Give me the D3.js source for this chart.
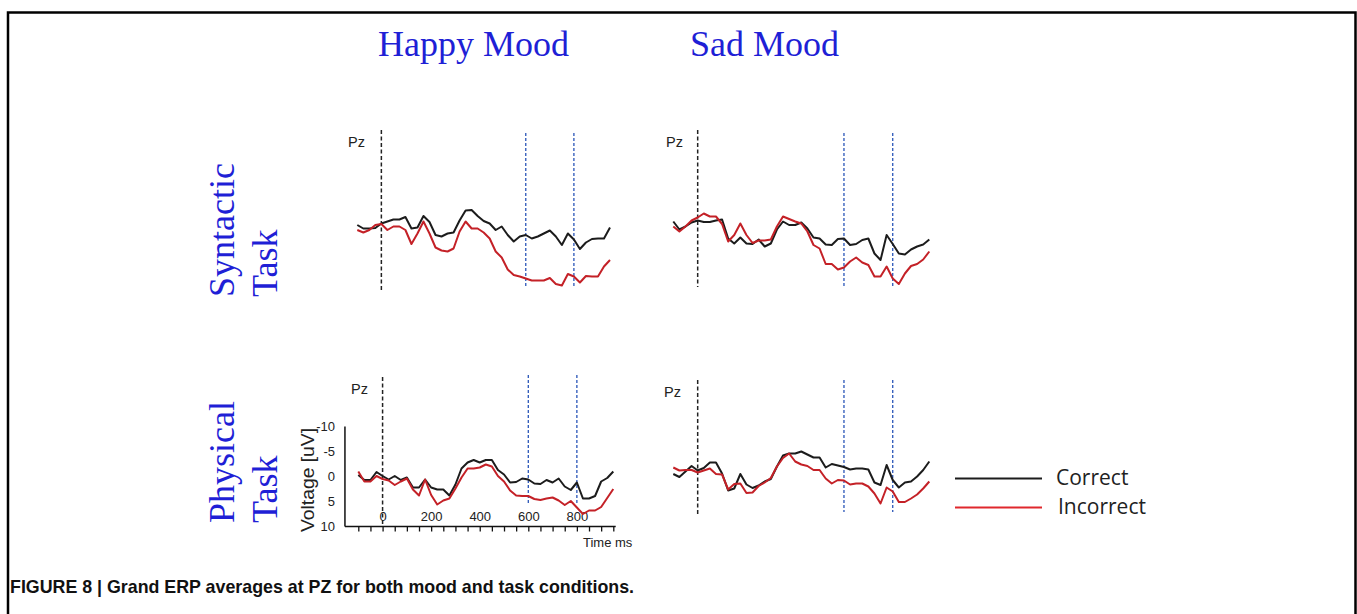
<!DOCTYPE html>
<html>
<head>
<meta charset="utf-8">
<script src="https://cdn.jsdelivr.net/npm/d3@7/dist/d3.min.js"></script>
<style>
  body { margin: 0; background: #fff; }
</style>
</head>
<body>
<svg id="chart" width="1357" height="614" font-family="Liberation Sans, Arial, sans-serif"></svg>
<script>

// time grid (ms) shared by all ERP traces
var times = [-100, -75, -50, -25, 0, 25, 50, 75, 100, 125, 150, 175, 200, 225, 250, 275, 300,
  325, 350, 375, 400, 425, 450, 475, 500, 525, 550, 575, 600, 625, 650, 675, 700, 725, 750,
  775, 800, 825, 850, 875, 900, 925, 950];

// voltages in uV (negative up)
var happySynCorrect = [-1.0, -0.3, -0.3, -0.4, -1.3, -1.7, -2.1, -2.1, -2.6, -0.3, -0.5, -2.8, -1.6,
  1.0, 1.3, 0.7, 0.5, -1.9, -3.9, -4.0, -2.8, -1.8, -1.3, 0.0, -0.7, 1.0, 2.3, 1.3, 1.0, 1.7, 1.3,
  0.7, 0.1, 1.3, 3.0, 0.7, 1.9, 3.8, 2.5, 1.8, 1.7, 1.7, -0.5];
var happySynIncorrect = [0.0, 0.5, 0.0, -1.0, -1.2, 0.0, -0.7, -0.7, 0.0, 2.8, 0.7, -1.7, 0.7, 3.5,
  4.1, 4.3, 3.7, 0.3, -1.7, -0.3, -0.3, 0.5, 1.7, 4.3, 5.5, 7.9, 9.0, 9.3, 9.7, 10.1, 10.1, 10.1,
  9.6, 10.8, 11.1, 8.8, 9.3, 10.5, 9.2, 9.3, 9.3, 7.3, 6.0];
var sadSynCorrect = [-1.7, -0.1, -0.7, -1.5, -1.9, -1.6, -1.6, -1.9, -2.1, 1.7, 2.7, 1.5, 2.7, 2.8,
  1.9, 3.3, 2.7, -0.1, -1.7, -1.0, -1.0, -1.5, -0.3, 1.5, 1.7, 2.9, 3.0, 1.8, 1.7, 3.0, 2.8, 2.0,
  1.7, 4.7, 6.0, 1.0, 2.8, 4.7, 4.9, 3.9, 3.3, 2.9, 1.9];
var sadSynIncorrect = [-0.7, 0.3, -0.7, -1.9, -2.5, -3.3, -2.7, -2.7, -1.2, 2.3, 1.0, -1.3, 1.0, 2.6,
  2.1, 2.1, 1.9, -0.7, -2.7, -2.2, -1.7, -1.3, 0.3, 3.0, 3.7, 6.8, 6.8, 7.9, 7.5, 6.3, 5.5, 6.5,
  7.0, 9.3, 9.3, 7.3, 9.7, 10.8, 8.7, 7.2, 6.8, 5.9, 4.3];
var happyPhysCorrect = [-0.3, 0.7, 0.7, -0.9, -0.1, 0.6, -0.1, 0.7, 0.2, 2.2, 2.2, 0.6, 2.2, 2.6,
  2.6, 3.8, 1.6, -1.6, -2.8, -3.3, -2.8, -3.3, -3.3, -1.3, -0.4, 1.2, 1.1, 0.4, 0.6, 1.4, 1.5, 0.7,
  1.2, 0.4, 2.0, 2.7, 1.2, 4.4, 4.4, 3.9, 1.0, 0.3, -1.0];
var happyPhysIncorrect = [-1.0, 1.0, 1.0, -0.1, 0.5, 0.8, 1.7, 1.0, 0.4, 2.6, 3.8, 0.6, 3.7, 5.6,
  4.8, 4.4, 2.4, 0.2, -1.6, -1.6, -1.8, -2.4, -2.0, -0.1, 1.0, 2.8, 3.8, 3.9, 3.9, 4.5, 4.7, 4.4,
  4.2, 4.8, 5.7, 4.9, 6.2, 7.5, 6.8, 6.8, 6.1, 4.3, 2.5];
var sadPhysCorrect = [-0.5, 0.1, -1.0, -2.1, -1.2, -1.7, -2.8, -2.8, -0.6, 2.8, 2.4, -0.5, 1.6, 2.3,
  1.8, 1.0, 0.5, -2.0, -4.2, -4.6, -4.6, -5.0, -4.4, -3.8, -3.8, -1.8, -2.5, -2.2, -1.9, -1.4, -1.6,
  -1.6, -1.4, 1.2, 1.7, -2.3, 0.7, 2.2, 1.2, 1.0, 0.0, -1.3, -3.0];
var sadPhysIncorrect = [-1.8, -1.2, -1.3, -1.3, -0.8, -1.2, -1.6, -0.5, -0.4, 2.6, 1.5, 1.4, 3.3,
  3.2, 1.9, 1.2, 0.3, -2.0, -3.7, -4.6, -3.0, -2.4, -2.1, -1.3, -1.3, 0.4, 1.4, 0.7, 0.8, 1.6, 1.4,
  1.4, 2.0, 3.4, 5.4, 2.2, 3.0, 5.1, 5.1, 4.4, 3.6, 2.4, 1.0];

// axis ticks of the one labelled panel
var voltTicks = [-10, -5, 0, 5, 10];
var timeLabels = [0, 200, 400, 600, 800];
var timeTicks = [-100, -50, 0, 50, 100, 150, 200, 250, 300, 350, 400, 450, 500, 550, 600, 650,
  700, 750, 800, 850, 900, 950];
var markers = [600, 800];

var moods = ["Happy Mood", "Sad Mood"];
var tasks = [["Syntactic", "Task"], ["Physical", "Task"]];
var seriesNames = ["Correct", "Incorrect"];

var svg = d3.select("#chart");
var serif = "Liberation Serif, Times New Roman, serif";

// frame round the figure
svg.append("path")
    .attr("d", "M8,614V12.5H1355.5V614")
    .attr("fill", "none")
    .attr("stroke", "#000")
    .attr("stroke-width", 2.5);

var panels = [
  {corr: happySynCorrect, inc: happySynIncorrect, left: 357.3, right: 610, zero: 230,
   black: [130, 290], blue: [133, 288], pz: [348, 147]},
  {corr: sadSynCorrect, inc: sadSynIncorrect, left: 673.3, right: 929.3, zero: 230,
   black: [130, 287], blue: [133, 288], pz: [666, 147]},
  {corr: happyPhysCorrect, inc: happyPhysIncorrect, left: 358.3, right: 613.3, zero: 476.5,
   black: [377, 527], blue: [375, 503], pz: [351, 394], axes: true},
  {corr: sadPhysCorrect, inc: sadPhysIncorrect, left: 673.3, right: 929.3, zero: 476.5,
   black: [380, 515], blue: [380, 512], pz: [664, 397]}
];

panels.forEach(function(p) {
  var x = d3.scaleLinear().domain([-100, 950]).range([p.left, p.right]);
  var y = d3.scaleLinear().domain([-10, 10]).range([p.zero - 50, p.zero + 50]);
  var g = svg.append("g");

  g.append("text")
      .attr("x", p.pz[0]).attr("y", p.pz[1])
      .attr("font-size", 14.5).attr("fill", "#222")
      .text("Pz");

  g.append("line")
      .attr("x1", x(0)).attr("x2", x(0))
      .attr("y1", p.black[0]).attr("y2", p.black[1])
      .attr("stroke", "#222").attr("stroke-width", 1.5)
      .attr("stroke-dasharray", "4,2.5");

  g.selectAll(".marker")
      .data(markers)
    .enter().append("line")
      .attr("class", "marker")
      .attr("x1", function(d) { return x(d); })
      .attr("x2", function(d) { return x(d); })
      .attr("y1", p.blue[0]).attr("y2", p.blue[1])
      .attr("stroke", "#2a55b8").attr("stroke-width", 1.3)
      .attr("stroke-dasharray", "3,2");

  if (p.axes) {
    var axisY = x(-155);
    g.append("line")
        .attr("x1", axisY).attr("x2", axisY)
        .attr("y1", y(-10)).attr("y2", y(10))
        .attr("stroke", "#111").attr("stroke-width", 1.5);
    g.append("line")
        .attr("x1", axisY).attr("x2", x(960))
        .attr("y1", y(10)).attr("y2", y(10))
        .attr("stroke", "#111").attr("stroke-width", 1.5);

    var ya = g.append("g")
        .attr("transform", "translate(" + axisY + ",0)")
        .call(d3.axisLeft(y).tickValues(voltTicks).tickSize(0).tickPadding(10)
          .tickFormat(function(d) { return String(d); }));
    ya.select(".domain").remove();
    ya.selectAll("text").attr("font-size", 13).attr("fill", "#222")
        .attr("font-family", "Liberation Sans, Arial");

    var xt = g.append("g")
        .attr("transform", "translate(0," + y(10) + ")")
        .call(d3.axisBottom(x).tickValues(timeTicks).tickSize(5).tickFormat(""));
    xt.select(".domain").remove();
    xt.selectAll("line").attr("stroke", "#111").attr("stroke-width", 1.3);

    var xl = g.append("g")
        .attr("transform", "translate(0," + y(10) + ")")
        .call(d3.axisTop(x).tickValues(timeLabels).tickSize(0).tickPadding(6));
    xl.select(".domain").remove();
    xl.selectAll("text").attr("font-size", 13).attr("fill", "#222")
        .attr("font-family", "Liberation Sans, Arial");

    g.append("text")
        .attr("transform", "translate(314,480) rotate(-90)")
        .attr("text-anchor", "middle")
        .attr("font-size", 18).attr("fill", "#222")
        .attr("textLength", 104).attr("lengthAdjust", "spacingAndGlyphs")
        .text("Voltage [uV]");

    g.append("text")
        .attr("x", 583).attr("y", 547)
        .attr("font-size", 13).attr("fill", "#222")
        .text("Time ms");
  }

  var line = d3.line()
      .x(function(d, i) { return x(times[i]); })
      .y(function(d) { return y(d); });

  g.append("path").datum(p.corr)
      .attr("fill", "none").attr("stroke", "#1c1c1c").attr("stroke-width", 2)
      .attr("stroke-linejoin", "round")
      .attr("d", line);
  g.append("path").datum(p.inc)
      .attr("fill", "none").attr("stroke", "#c42127").attr("stroke-width", 2)
      .attr("stroke-linejoin", "round")
      .attr("d", line);
});

// column titles
var titleX = [378, 690];
svg.selectAll(".mood")
    .data(moods)
  .enter().append("text")
    .attr("class", "mood")
    .attr("x", function(d, i) { return titleX[i]; })
    .attr("y", 56)
    .attr("font-family", serif)
    .attr("font-size", 36).attr("fill", "#1f1fd6")
    .text(function(d) { return d; });

// row titles
var rowBase = [297, 523];
tasks.forEach(function(t, i) {
  t.forEach(function(word, j) {
    svg.append("text")
        .attr("transform", "translate(" + (j === 0 ? 234 : 277) + "," + rowBase[i] + ") rotate(-90)")
        .attr("font-family", serif)
        .attr("font-size", 36).attr("fill", "#1f1fd6")
        .text(word);
  });
});

// legend
var legendColors = ["#1c1c1c", "#e0282d"];
var legendY = [478.5, 507.5];
var legendTextX = [1056, 1058];
seriesNames.forEach(function(name, i) {
  svg.append("line")
      .attr("x1", 955).attr("x2", 1042)
      .attr("y1", legendY[i]).attr("y2", legendY[i])
      .attr("stroke", legendColors[i]).attr("stroke-width", 2);
  svg.append("text")
      .attr("x", legendTextX[i]).attr("y", legendY[i] + 6.5)
      .attr("font-family", "Open Sans, sans-serif")
      .attr("font-size", 21).attr("fill", "#222")
      .text(name);
});

// caption
svg.append("text")
    .attr("x", 10).attr("y", 593)
    .attr("font-family", "Liberation Sans Narrow, Arial Narrow, Liberation Sans, sans-serif")
    .attr("font-weight", "bold").attr("font-size", 19).attr("fill", "#111")
    .attr("textLength", 624).attr("lengthAdjust", "spacingAndGlyphs")
    .text("FIGURE 8 | Grand ERP averages at PZ for both mood and task conditions.");

</script>
</body>
</html>
